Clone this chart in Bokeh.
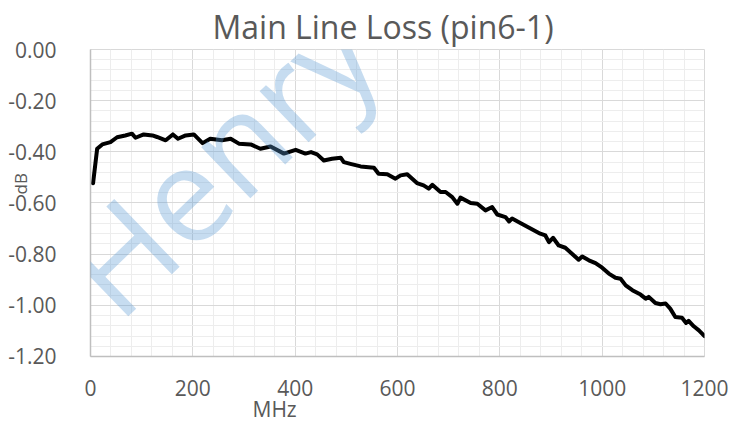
import math
from bokeh.plotting import figure
from bokeh.models import (Range1d, SingleIntervalTicker, NumeralTickFormatter,
                          Label, Title, ColumnDataSource)
from bokeh.embed import file_html
from bokeh.resources import INLINE

# ---- data ----
freq_mhz = [5, 13, 23, 39, 52, 68, 81, 88, 104, 121,
            130, 147, 161, 171, 186, 202, 219, 234, 257, 274,
            290, 313, 332, 352, 378, 401, 420, 431, 443, 456,
            472, 489, 495, 508, 528, 554, 563, 580, 596, 606,
            619, 638, 651, 661, 668, 684, 694, 707, 717, 723,
            743, 756, 772, 785, 795, 811, 818, 824, 840, 860,
            879, 889, 896, 904, 915, 928, 941, 954, 961, 974,
            987, 1000, 1013, 1026, 1036, 1046, 1059, 1075, 1085, 1091,
            1104, 1114, 1124, 1133, 1143, 1156, 1164, 1169, 1179, 1189,
            1200]
loss_db = [-0.523, -0.388, -0.371, -0.362, -0.343, -0.336, -0.329, -0.345, -0.332, -0.336,
           -0.342, -0.355, -0.332, -0.349, -0.336, -0.332, -0.366, -0.349, -0.355, -0.349,
           -0.368, -0.371, -0.388, -0.379, -0.407, -0.392, -0.407, -0.401, -0.410, -0.434,
           -0.427, -0.423, -0.440, -0.447, -0.457, -0.462, -0.486, -0.488, -0.505, -0.492,
           -0.488, -0.522, -0.531, -0.544, -0.529, -0.557, -0.557, -0.577, -0.603, -0.579,
           -0.600, -0.603, -0.629, -0.616, -0.645, -0.655, -0.672, -0.661, -0.678, -0.700,
           -0.720, -0.727, -0.753, -0.736, -0.766, -0.775, -0.798, -0.822, -0.809, -0.824,
           -0.835, -0.853, -0.876, -0.892, -0.896, -0.922, -0.941, -0.958, -0.974, -0.967,
           -0.991, -0.996, -0.993, -1.013, -1.046, -1.049, -1.069, -1.061, -1.082, -1.098,
           -1.120]

title_text = "Main Line Loss (pin6-1)"
x_label = "MHz"
y_label = "dB"
watermark = "Henry"

FONT = "Open Sans"
TXT = "#595959"

p = figure(width=742, height=423, output_backend="svg", toolbar_location=None,
           x_range=Range1d(0, 1200), y_range=Range1d(-1.2001, 0.0),
           min_border_left=90, min_border_right=38, min_border_top=49,
           min_border_bottom=67)
p.background_fill_color = "white"
p.border_fill_color = "white"
p.outline_line_color = "#d9d9d9"

# title
p.title.text = title_text
p.title.text_font = FONT
p.title.text_font_size = "32px"
p.title.text_font_style = "normal"
p.title.text_color = TXT
p.title.align = "left"
p.title.offset = 122
p.title.standoff = 4

p.xaxis.ticker = SingleIntervalTicker(interval=200, num_minor_ticks=5)
p.yaxis.ticker = SingleIntervalTicker(interval=0.2, num_minor_ticks=5)
p.yaxis.formatter = NumeralTickFormatter(format="0.00")

for ax in (p.xaxis, p.yaxis):
    ax.axis_line_color = "#bfbfbf"
    ax.axis_line_width = 1.5
    ax.major_tick_line_color = None
    ax.minor_tick_line_color = None
    ax.major_label_text_font = FONT
    ax.major_label_text_font_size = "21px"
    ax.major_label_text_color = TXT
p.xaxis.major_label_standoff = 17
p.yaxis.major_label_standoff = 28

for g in (p.xgrid, p.ygrid):
    g.grid_line_color = "#d9d9d9"
    g.grid_line_width = 1
    g.minor_grid_line_color = "#ededed"
    g.minor_grid_line_width = 1

src = ColumnDataSource(dict(x=freq_mhz, y=loss_db))
p.line("x", "y", source=src, line_color="black", line_width=4,
       line_join="round", line_cap="round")

# axis titles
p.add_layout(Title(text=x_label, text_font=FONT, text_font_size="21px",
                   text_font_style="normal", text_color=TXT,
                   align="left", offset=162, vertical_align="top",
                   standoff=-8), "below")
p.add_layout(Title(text=y_label, text_font=FONT, text_font_size="17px",
                   text_font_style="normal", text_color=TXT,
                   align="left", offset=162, standoff=-53), "left")

# watermark
p.add_layout(Label(x=-7, y=68, x_units="screen", y_units="screen",
                   text=watermark, text_font=FONT, text_font_size="132px",
                   text_color="#5b9bd5", text_alpha=0.35, level="overlay",
                   angle=math.radians(44), text_baseline="alphabetic"))

open("out.html", "w").write(file_html(p, INLINE))
